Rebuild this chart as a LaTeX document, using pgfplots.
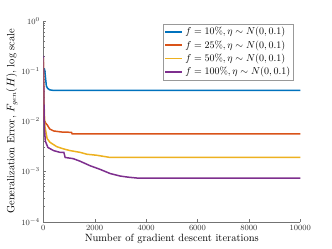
\documentclass[border=0pt]{standalone}
\usepackage{pgfplots}
\pgfplotsset{compat=1.18}
\definecolor{mblue}{rgb}{0,0.447,0.741}
\definecolor{morange}{rgb}{0.85,0.325,0.098}
\definecolor{myellow}{rgb}{0.929,0.694,0.125}
\definecolor{mpurple}{rgb}{0.494,0.184,0.556}
\begin{document}
\begin{tikzpicture}
\begin{axis}[
  scale only axis, width=257pt, height=201pt,
  ymode=log, xmin=0, xmax=10000, ymin=1e-4, ymax=1,
  axis lines*=left, tick align=inside,
  axis line style={black!55}, tick style={black!55},
  major tick length=3pt, minor tick length=1.6pt,
  xtick={0,2000,4000,6000,8000,10000},
  ytick={1e-4,1e-3,1e-2,1e-1,1},
  scaled x ticks=false,
  xticklabel style={font=\fontsize{8}{9}\selectfont, text=black!80, /pgf/number format/1000 sep={}},
  yticklabel style={font=\fontsize{8}{9}\selectfont, text=black!80},
  xlabel={Number of gradient descent iterations},
  ylabel={Generalization Error, $F_{gen}(H)$, log scale},
  label style={font=\fontsize{10.5}{12}\selectfont},
  xlabel style={yshift=3pt},
  ylabel style={yshift=-3pt},
  legend style={at={(0.975,0.985)}, anchor=north east, draw=black!40,
    font=\fontsize{10}{11}\selectfont, inner sep=1.5pt, row sep=0.3pt},
  legend cell align=left,
  legend image code/.code={\draw[#1] (0pt,0pt) -- (17pt,0pt);},
]
\addlegendimage{draw=mblue, line width=1.7pt}
\addlegendentry{$f=10\%,\eta\sim N(0,0.1)$}
\addlegendimage{draw=morange, line width=1.7pt}
\addlegendentry{$f=25\%,\eta\sim N(0,0.1)$}
\addlegendimage{draw=myellow, line width=1.7pt}
\addlegendentry{$f=50\%,\eta\sim N(0,0.1)$}
\addlegendimage{draw=mpurple, line width=1.7pt}
\addlegendentry{$f=100\%,\eta\sim N(0,0.1)$}
\addplot[forget plot, draw=mblue, line width=1.5pt] coordinates {(0,0.11) (40,0.11) (60,0.1) (90,0.07) (120,0.05) (170,0.045) (250,0.042) (400,0.041) (10000,0.041)};
\addplot[forget plot, draw=morange, line width=1.5pt] coordinates {(0,0.15) (20,0.012) (60,0.0095) (150,0.0085) (250,0.007) (400,0.0064) (700,0.0061) (1100,0.006) (1120,0.0056) (10000,0.0056)};
\addplot[forget plot, draw=myellow, line width=1.5pt] coordinates {(0,0.18) (20,0.03) (60,0.008) (150,0.0045) (260,0.0038) (530,0.0031) (800,0.0028) (1040,0.0026) (1430,0.0024) (1700,0.0022) (2080,0.0021) (2600,0.0019) (10000,0.0019)};
\addplot[forget plot, draw=mpurple, line width=1.5pt] coordinates {(0,0.2) (40,0.0075) (80,0.004) (180,0.003) (400,0.0026) (650,0.0024) (800,0.0024) (850,0.0019) (1160,0.0018) (1430,0.0016) (1820,0.0013) (2210,0.0011) (2600,0.00091) (2990,0.00081) (3300,0.00077) (3640,0.00074) (10000,0.00074)};
\end{axis}
\pgfresetboundingbox
\useasboundingbox (-43.3pt,-27.3pt) rectangle (288.7pt,221.7pt);
\end{tikzpicture}
\end{document}
